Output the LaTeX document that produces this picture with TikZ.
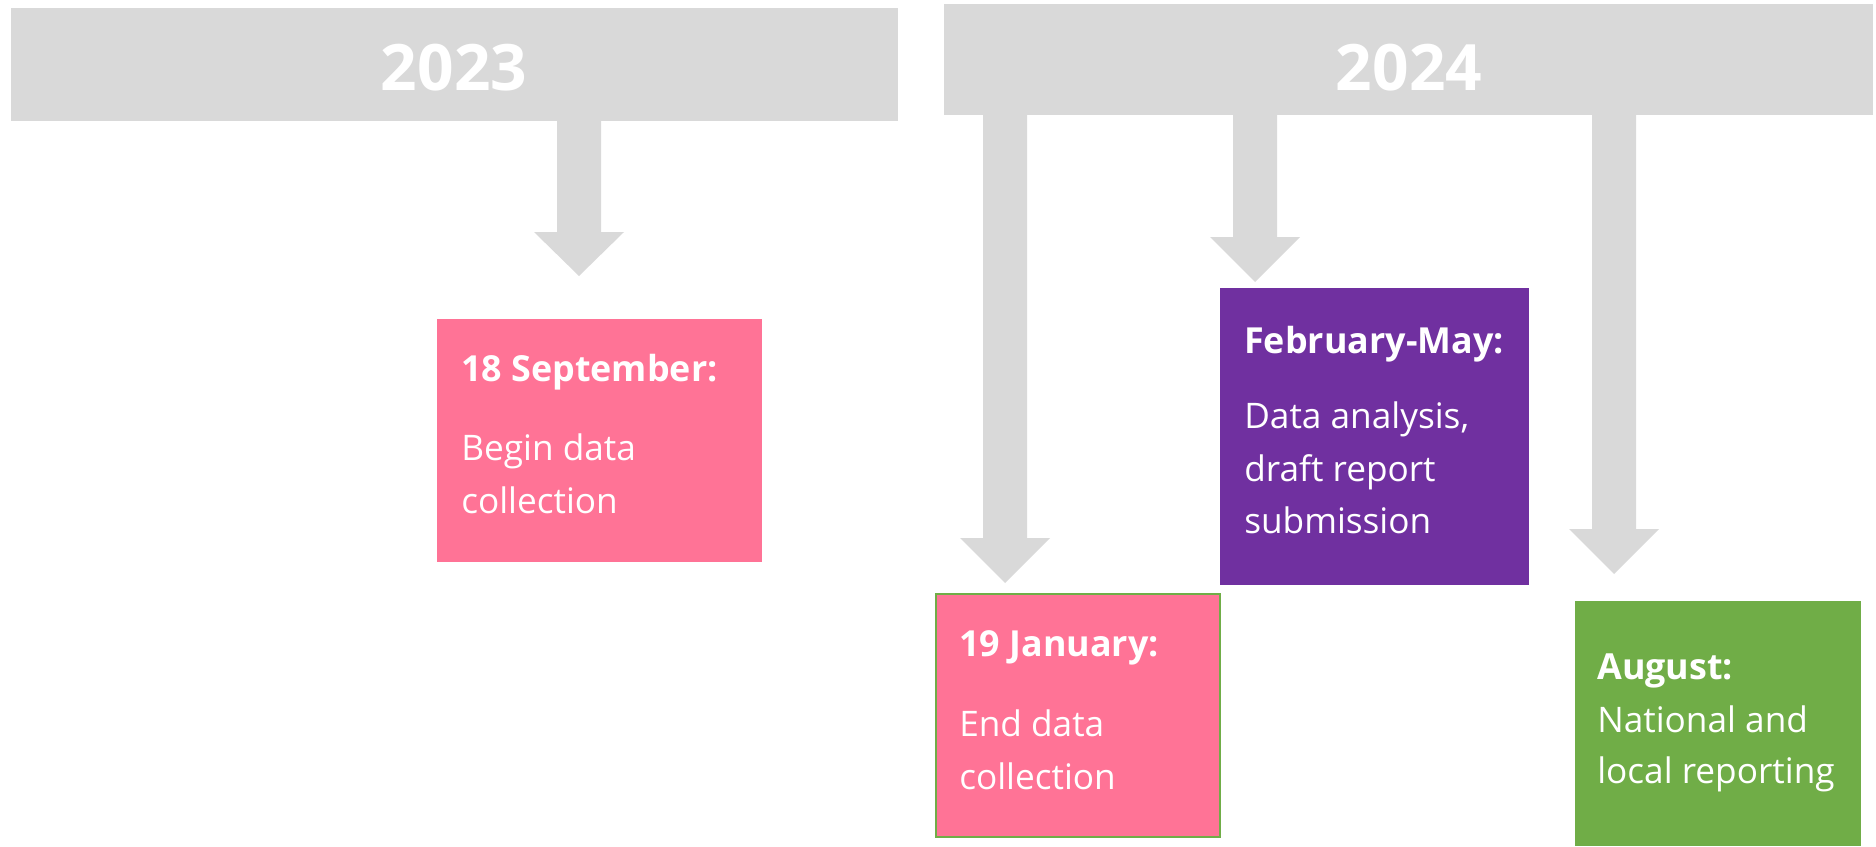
\documentclass[tikz,border=0pt]{standalone}
\usepackage{fontspec}
\setmainfont{Open Sans}
\usetikzlibrary{calc}

\definecolor{bargray}{HTML}{D9D9D9}
\definecolor{eventpink}{HTML}{FF7396}
\definecolor{eventpurple}{HTML}{7030A0}
\definecolor{eventgreen}{HTML}{70AD47}

% block arrow hanging from a year bar: #1 centre x, #2 top of head, #3 tip
\newcommand\dropArrow[3]{\fill[bargray] (#1-22,110) -- (#1-22,#2) -- (#1-45,#2) -- (#1,#3) -- (#1+45,#2) -- (#1+22,#2) -- (#1+22,110) -- cycle;}

\tikzset{
  yeartext/.style={text=white, inner sep=0pt, font=\fontsize{48pt}{58pt}\selectfont\bfseries},
  datetext/.style={text=white, inner sep=0pt, anchor=base west, font=\fontsize{26.9pt}{40pt}\selectfont\bfseries},
  bodytext/.style={text=white, inner sep=0pt, anchor=base west, font=\fontsize{26.4pt}{40pt}\selectfont}
}

\begin{document}
\begin{tikzpicture}[x=0.75pt, y=-0.75pt]
		\useasboundingbox (0,0) rectangle (1876,846);
		
		%%%%% year bars %%%%%
		\fill[bargray] (11,8) rectangle (898,121);
		\fill[bargray] (944,4) rectangle (1873,115);
		\node[yeartext, anchor=base] (y2023) at (454,90) {2023};
		\node[yeartext, anchor=base] (y2024) at (1409,90) {2024};
		
		%%%%% arrows %%%%%
		\dropArrow{579}{232}{276}
		\dropArrow{1005}{538}{583}
		\dropArrow{1255}{237}{282}
		\dropArrow{1614}{529}{574}
		
		%%%%% 18 September %%%%%
		\fill[eventpink] (437,319) rectangle (762,562);
		\node[datetext] (sepdate) at (461,381) {18 September:};
		\node[bodytext] (sepline1) at (461,460) {Begin data};
		\node[bodytext] (sepline2) at (461,513) {collection};
		
		%%%%% February-May %%%%%
		\fill[eventpurple] (1220,288) rectangle (1529,585);
		\node[datetext] (febdate) at (1244,353) {February-May:};
		\node[bodytext] (febline1) at (1244,428) {Data analysis,};
		\node[bodytext] (febline2) at (1244,481) {draft report};
		\node[bodytext] (febline3) at (1244,533) {submission};
		
		%%%%% 19 January %%%%%
		\draw[fill=eventpink, draw=eventgreen, line width=1.5pt] (936,594) rectangle (1220,837);
		\node[datetext] (jandate) at (959,656) {19 January:};
		\node[bodytext] (janline1) at (959,736) {End data};
		\node[bodytext] (janline2) at (959,789) {collection};
		
		%%%%% August %%%%%
		\fill[eventgreen] (1575,601) rectangle (1861,846);
		\node[datetext] (augdate) at (1597,679) {August:};
		\node[bodytext] (augline1) at (1597,732) {National and};
		\node[bodytext] (augline2) at (1597,783) {local reporting};
		
\end{tikzpicture}
\end{document}
